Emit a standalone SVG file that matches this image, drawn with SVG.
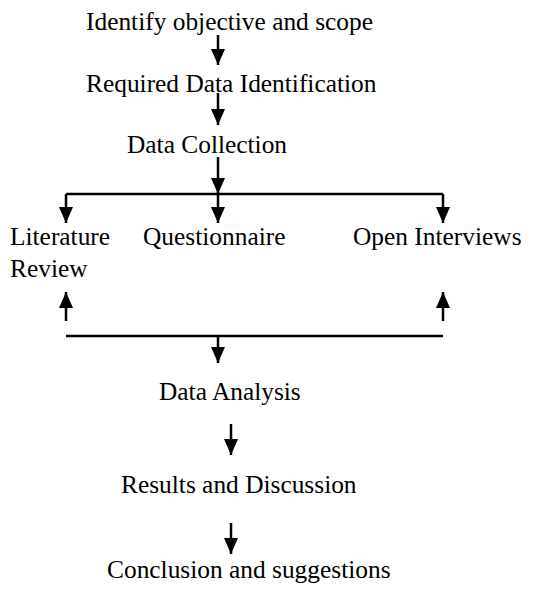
<svg xmlns="http://www.w3.org/2000/svg" width="549" height="589" viewBox="0 0 549 589">
<style>
text{font-family:"Liberation Serif","Times New Roman",serif;font-size:25.4px;fill:#000}
.c{stroke:#000;stroke-width:2.5;fill:none}
.a{marker-end:url(#ah)}
</style>
<defs>
<marker id="ah" markerUnits="userSpaceOnUse" markerWidth="16" markerHeight="14" refX="16" refY="7" orient="auto" viewBox="0 0 16 14">
<path d="M0,0 L16,7 L0,14 z" fill="#000"/>
</marker>
</defs>
<rect width="549" height="589" fill="#fff"/>
<g id="connectors">
<line class="c a" x1="218" y1="35" x2="218" y2="65"/>
<line class="c a" x1="218" y1="93" x2="218" y2="125"/>
<line class="c a" x1="218" y1="157" x2="218" y2="194"/>
<line class="c" x1="66" y1="194" x2="443" y2="194"/>
<line class="c a" x1="66" y1="194" x2="66" y2="223"/>
<line class="c a" x1="218" y1="194" x2="218" y2="223"/>
<line class="c a" x1="443" y1="194" x2="443" y2="223"/>
<line class="c a" x1="66" y1="321" x2="66" y2="292"/>
<line class="c a" x1="443" y1="321" x2="443" y2="292"/>
<line class="c" x1="66" y1="336" x2="443" y2="336"/>
<line class="c a" x1="218" y1="336" x2="218" y2="363"/>
<line class="c a" x1="231" y1="424" x2="231" y2="455"/>
<line class="c a" x1="231" y1="523" x2="231" y2="554"/>
</g>
<g id="n1"><text x="86" y="30">Identify objective and scope</text></g>
<g id="n2"><text x="86" y="92">Required Data Identification</text></g>
<g id="n3"><text x="127" y="153">Data Collection</text></g>
<g id="n4"><text x="10" y="245">Literature</text><text x="10" y="277">Review</text></g>
<g id="n5"><text x="143" y="245">Questionnaire</text></g>
<g id="n6"><text x="353" y="245">Open Interviews</text></g>
<g id="n7"><text x="159" y="400">Data Analysis</text></g>
<g id="n8"><text x="121" y="493">Results and Discussion</text></g>
<g id="n9"><text x="107" y="578">Conclusion and suggestions</text></g>
</svg>
